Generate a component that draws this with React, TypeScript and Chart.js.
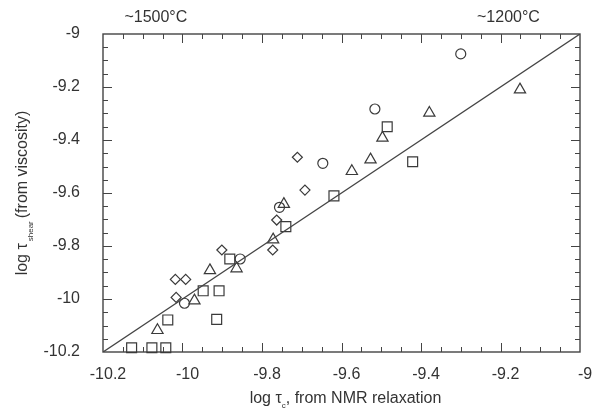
import React, { useEffect, useRef } from "react";
import { Chart, registerables } from "chart.js";

Chart.register(...registerables);

// x: log tau from NMR relaxation, y: log tau_shear from viscosity
const squareX = [-10.128, -10.077, -10.042, -10.037, -9.948, -9.908, -9.914, -9.881, -9.74, -9.619, -9.485, -9.421];
const squareY = [-10.184, -10.184, -10.184, -10.079, -9.969, -9.969, -10.077, -9.849, -9.727, -9.611, -9.35, -9.482];

const triangleX = [-10.063, -9.97, -9.931, -9.864, -9.772, -9.745, -9.574, -9.527, -9.497, -9.379, -9.151];
const triangleY = [-10.118, -10.006, -9.892, -9.885, -9.776, -9.642, -9.518, -9.474, -9.392, -9.298, -9.21];

const diamondX = [-10.018, -9.992, -10.016, -9.901, -9.773, -9.763, -9.692, -9.711];
const diamondY = [-9.926, -9.926, -9.994, -9.815, -9.815, -9.702, -9.589, -9.465];

const circleX = [-9.995, -9.855, -9.756, -9.647, -9.516, -9.3];
const circleY = [-10.016, -9.849, -9.654, -9.488, -9.283, -9.075];

const lineX = [-10.2, -9];
const lineY = [-10.2, -9];

const axisMin = -10.2;
const axisMax = -9;
const majorStep = 0.2;
const minorStep = 0.05;

const topLabels = ["~1500°C", "~1200°C"];
const topLabelX = [-10.067, -9.18];

const FONT = '"Liberation Sans", Arial, Helvetica, sans-serif';
const INK = "#333";

const toPts = (xs: number[], ys: number[]) => xs.map((x, i) => ({ x, y: ys[i] }));

const decorPlugin = {
  id: "decor",
  beforeDatasetsDraw(chart: any) {
    const { ctx, chartArea, scales } = chart;
    const { left, right, top, bottom } = chartArea;
    ctx.save();
    ctx.strokeStyle = "#444";
    ctx.lineWidth = 1.4;
    ctx.strokeRect(left, top, right - left, bottom - top);
    ctx.lineWidth = 1;
    const n = Math.round((axisMax - axisMin) / minorStep);
    const per = Math.round(majorStep / minorStep);
    for (let i = 1; i < n; i++) {
      const v = axisMin + i * minorStep;
      const len = i % per === 0 ? 9 : 5;
      const px = Math.round(scales.x.getPixelForValue(v)) + 0.5;
      const py = Math.round(scales.y.getPixelForValue(v)) + 0.5;
      ctx.beginPath();
      ctx.moveTo(px, bottom);
      ctx.lineTo(px, bottom - len);
      ctx.moveTo(px, top);
      ctx.lineTo(px, top + len);
      ctx.moveTo(left, py);
      ctx.lineTo(left + len, py);
      ctx.moveTo(right, py);
      ctx.lineTo(right - len, py);
      ctx.stroke();
    }
    ctx.restore();
  },
  afterDraw(chart: any) {
    const { ctx, chartArea, scales } = chart;
    ctx.save();
    ctx.fillStyle = INK;
    ctx.textBaseline = "alphabetic";
    // top temperature labels
    ctx.font = `16px ${FONT}`;
    ctx.textAlign = "center";
    topLabels.forEach((t, i) => {
      ctx.fillText(t, scales.x.getPixelForValue(topLabelX[i]), 22);
    });
    ctx.textAlign = "left";

    // x-axis title: log τ_c, from NMR relaxation
    const mainF = `16px ${FONT}`;
    const subF = `8px ${FONT}`;
    const xParts = [
      { t: "log τ", f: mainF, dy: 0, gap: 0 },
      { t: "c", f: subF, dy: 5, gap: 0 },
      { t: ", from NMR relaxation", f: mainF, dy: 0, gap: 0 },
    ];
    let tw = 0;
    xParts.forEach((p) => {
      ctx.font = p.f;
      tw += ctx.measureText(p.t).width + p.gap;
    });
    let cx = (chartArea.left + chartArea.right) / 2 + 4 - tw / 2;
    xParts.forEach((p) => {
      ctx.font = p.f;
      ctx.fillText(p.t, cx, 403 + p.dy);
      cx += ctx.measureText(p.t).width + p.gap;
    });

    // y-axis title: log τ_shear (from viscosity)
    const yParts = [
      { t: "log τ", f: mainF, dy: 0, gap: 2 },
      { t: "shear", f: subF, dy: 6, gap: 3 },
      { t: "(from viscosity)", f: mainF, dy: 0, gap: 0 },
    ];
    tw = 0;
    yParts.forEach((p) => {
      ctx.font = p.f;
      tw += ctx.measureText(p.t).width + p.gap;
    });
    ctx.translate(27, (chartArea.top + chartArea.bottom) / 2);
    ctx.rotate(-Math.PI / 2);
    let cy = -tw / 2;
    yParts.forEach((p) => {
      ctx.font = p.f;
      ctx.fillText(p.t, cy, p.dy);
      cy += ctx.measureText(p.t).width + p.gap;
    });
    ctx.restore();
  },
};

const fmt = (v: any) => {
  const r = Math.round(Number(v) * 10) / 10;
  return String(r);
};

export default function App() {
  const ref = useRef<HTMLCanvasElement | null>(null);

  useEffect(() => {
    if (!ref.current) return;
    const markerCommon = {
      type: "scatter" as const,
      backgroundColor: "rgba(0,0,0,0)",
      borderColor: "#3a3a3a",
      borderWidth: 1.2,
      clip: false as any,
    };
    const chart = new Chart(ref.current, {
      type: "scatter",
      data: {
        datasets: [
          {
            type: "line",
            data: toPts(lineX, lineY),
            borderColor: "#444",
            borderWidth: 1.3,
            pointRadius: 0,
            showLine: true,
            fill: false,
          } as any,
          { ...markerCommon, data: toPts(squareX, squareY), pointStyle: "rect", pointRadius: 7 },
          { ...markerCommon, data: toPts(triangleX, triangleY), pointStyle: "triangle", pointRadius: 6.5 },
          { ...markerCommon, data: toPts(diamondX, diamondY), pointStyle: "rectRot", pointRadius: 5 },
          { ...markerCommon, data: toPts(circleX, circleY), pointStyle: "circle", pointRadius: 5 },
        ],
      },
      options: {
        responsive: false,
        animation: false,
        devicePixelRatio: 1,
        layout: { padding: { left: 0, right: 15, top: 34, bottom: 0 } },
        plugins: { legend: { display: false }, tooltip: { enabled: false } },
        scales: {
          x: {
            type: "linear",
            min: axisMin,
            max: axisMax,
            grid: { display: false },
            border: { display: false },
            afterFit: (s: any) => {
              s.height = 56;
            },
            ticks: {
              stepSize: majorStep,
              autoSkip: false,
              maxRotation: 0,
              padding: 5,
              labelOffset: 5,
              color: INK,
              font: { family: FONT, size: 16 },
              callback: fmt,
            },
          },
          y: {
            type: "linear",
            min: axisMin,
            max: axisMax,
            grid: { display: false },
            border: { display: false },
            afterFit: (s: any) => {
              s.width = 103;
            },
            ticks: {
              stepSize: majorStep,
              autoSkip: false,
              padding: 15,
              color: INK,
              font: { family: FONT, size: 16 },
              callback: fmt,
            },
          },
        },
      } as any,
      plugins: [decorPlugin],
    });
    return () => chart.destroy();
  }, []);

  return (
    <div style={{ position: "absolute", left: 0, top: 0, width: 595, height: 408, background: "#fff" }}>
      <canvas ref={ref} width={595} height={408} style={{ width: 595, height: 408, display: "block" }} />
    </div>
  );
}
